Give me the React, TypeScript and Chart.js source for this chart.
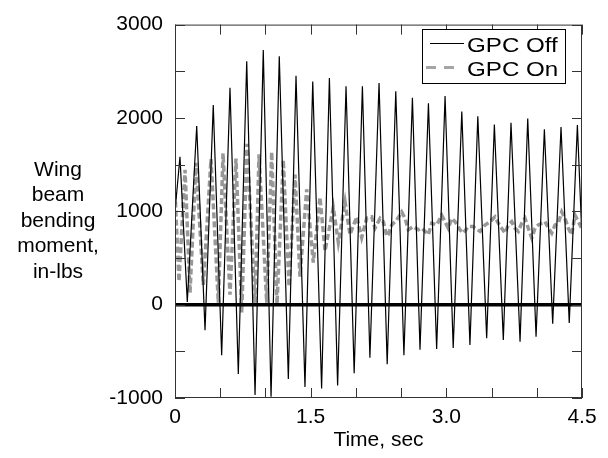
import React, { useEffect, useRef } from "react";
import { Chart, registerables } from "chart.js";

Chart.register(...registerables);

// ---- Data ----
const offTimes = [0, 0.055, 0.136, 0.240, 0.332, 0.423, 0.516, 0.608, 0.700, 0.793, 0.885, 0.976, 1.062, 1.153, 1.253, 1.338, 1.437, 1.523, 1.621, 1.707, 1.798, 1.891, 1.981, 2.072, 2.155, 2.256, 2.346, 2.441, 2.531, 2.625, 2.709, 2.802, 2.893, 2.986, 3.076, 3.171, 3.261, 3.348, 3.446, 3.531, 3.630, 3.715, 3.815, 3.900, 3.992, 4.084, 4.176, 4.268, 4.359, 4.449, 4.5];
const offValues = [1000, 1583, 28, 1913, -274, 2139, -542, 2323, -743, 2607, -969, 2729, -986, 2660, -795, 2451, -882, 2389, -899, 2427, -865, 2340, -736, 2340, -569, 2375, -639, 2285, -542, 2215, -483, 2156, -476, 2236, -465, 2070, -431, 2018, -361, 1930, -378, 1948, -396, 1993, -344, 1878, -205, 1903, -195, 1924, 700];

const onTimes = [0, 0.044, 0.111, 0.166, 0.232, 0.313, 0.398, 0.479, 0.531, 0.608, 0.674, 0.738, 0.796, 0.885, 0.929, 1.014, 1.069, 1.128, 1.197, 1.261, 1.327, 1.382, 1.456, 1.529, 1.603, 1.659, 1.750, 1.806, 1.880, 1.935, 2.009, 2.064, 2.120,
  2.175, 2.211, 2.267, 2.303, 2.341, 2.358, 2.396, 2.451, 2.507, 2.543, 2.580, 2.635, 2.690, 2.728, 2.764, 2.801, 2.838, 2.894, 2.949, 2.985, 3.022, 3.059, 3.096, 3.151, 3.188, 3.243, 3.298, 3.317, 3.373, 3.428, 3.483, 3.538, 3.575, 3.612, 3.649, 3.685, 3.723, 3.759, 3.796, 3.833, 3.870, 3.906, 3.944, 3.981, 4.017, 4.055, 4.091, 4.128, 4.165, 4.202, 4.238, 4.276, 4.312, 4.349, 4.386, 4.423, 4.459, 4.497];
const onValues = [1200, 250, 1444, 125, 1520, 211, 1560, 21, 1620, 107, 1566, -83, 1722, 21, 1610, 21, 1635, 3, 1549, 195, 1392, 300, 1236, 450, 1149, 576, 1040, 667, 1100, 750, 941, 718, 927,
  941, 819, 924, 889, 733, 750, 854, 906, 993, 924, 802, 837, 802, 819, 785, 750, 872, 854, 958, 889, 819, 924, 889, 802, 767, 837, 837, 819, 785, 854, 889, 941, 872, 819, 767, 854, 889, 819, 785, 872, 924, 819, 715, 819, 854, 872, 889, 819, 767, 854, 872, 993, 924, 819, 750, 958, 889, 819];

const seriesLabels = ["GPC Off", "GPC On"];
const xTickValues = [0, 1.5, 3.0, 4.5];
const xTickLabels = ["0", "1.5", "3.0", "4.5"];
const yTickValues = [-1000, 0, 1000, 2000, 3000];
const yTickLabels = ["-1000", "0", "1000", "2000", "3000"];
const yTitleLines = ["Wing", "beam", "bending", "moment,", "in-lbs"];
const xTitle = "Time, sec";

const FONT = "'Liberation Sans', Arial, Helvetica, sans-serif";
const FS = 21;
const GRAY = "rgb(152,152,152)";

const decorPlugin = {
  id: "decor",
  afterDatasetsDraw(chart: any) {
    const { ctx, chartArea: a, scales } = chart;
    const x = scales.x;
    const y = scales.y;
    ctx.save();
    // zero line
    const y0 = y.getPixelForValue(0);
    ctx.strokeStyle = "#000";
    ctx.lineWidth = 3.5;
    ctx.beginPath();
    ctx.moveTo(a.left, y0);
    ctx.lineTo(a.right, y0);
    ctx.stroke();
    // frame
    ctx.lineWidth = 1;
    ctx.strokeStyle = "#333";
    ctx.strokeRect(a.left + 0.5, a.top + 0.5, a.right - a.left - 1, a.bottom - a.top - 1);
    // inward ticks
    const TL = 10;
    ctx.beginPath();
    x.ticks.forEach((t: any) => {
      const px = Math.round(x.getPixelForValue(t.value)) + 0.5;
      ctx.moveTo(px, a.bottom);
      ctx.lineTo(px, a.bottom - TL);
      ctx.moveTo(px, a.top);
      ctx.lineTo(px, a.top + TL);
    });
    y.ticks.forEach((t: any) => {
      const py = Math.round(y.getPixelForValue(t.value)) + 0.5;
      ctx.moveTo(a.left, py);
      ctx.lineTo(a.left + TL, py);
      ctx.moveTo(a.right, py);
      ctx.lineTo(a.right - TL, py);
    });
    ctx.stroke();

    // legend
    const bx = 422, by = 29, bw = 143, bh = 54;
    ctx.fillStyle = "#fff";
    ctx.fillRect(bx, by, bw, bh);
    ctx.strokeStyle = "#000";
    ctx.lineWidth = 1;
    ctx.strokeRect(bx + 0.5, by + 0.5, bw, bh);
    const ds = chart.data.datasets;
    const rows = [43, 67];
    ds.forEach((d: any, i: number) => {
      ctx.save();
      ctx.strokeStyle = i === 0 ? d.borderColor : "rgb(165,165,165)";
      ctx.lineWidth = i === 0 ? 1 : 3;
      ctx.setLineDash(i === 0 ? [] : [10, 8]);
      ctx.beginPath();
      ctx.moveTo(i === 0 ? 430 : 426, rows[i] + 0.5);
      ctx.lineTo(i === 0 ? 464 : 454, rows[i] + 0.5);
      ctx.stroke();
      ctx.restore();
      ctx.save();
      ctx.fillStyle = "#000";
      ctx.font = `${FS}px ${FONT}`;
      ctx.textAlign = "left";
      ctx.textBaseline = "middle";
      ctx.translate(467, rows[i] + 3);
      ctx.scale(1.15, 1);
      ctx.fillText(d.label, 0, 0);
      ctx.restore();
    });

    // y title
    ctx.fillStyle = "#000";
    ctx.font = `${FS}px ${FONT}`;
    ctx.textAlign = "center";
    ctx.textBaseline = "middle";
    yTitleLines.forEach((s, i) => {
      ctx.fillText(s, 58, 170 + i * 25.5);
    });
    ctx.restore();
  },
};

export default function App() {
  const ref = useRef<HTMLCanvasElement | null>(null);
  useEffect(() => {
    if (!ref.current) return;
    Chart.defaults.font.family = FONT;
    Chart.defaults.color = "#000";
    const chart = new Chart(ref.current, {
      type: "line",
      data: {
        datasets: [
          {
            label: seriesLabels[0],
            data: offTimes.map((t, i) => ({ x: t, y: offValues[i] })),
            borderColor: "#000",
            borderWidth: 1.2,
            pointRadius: 0,
            tension: 0,
            order: 1,
          },
          {
            label: seriesLabels[1],
            data: onTimes.map((t, i) => ({ x: t, y: onValues[i] })),
            borderColor: GRAY,
            borderWidth: 3.5,
            borderDash: [6, 3],
            pointRadius: 0,
            tension: 0,
            order: 2,
          },
        ],
      },
      options: {
        responsive: false,
        animation: false,
        layout: { padding: { left: 0, right: 26, top: 14, bottom: 0 } },
        plugins: { legend: { display: false }, tooltip: { enabled: false } },
        scales: {
          x: {
            type: "linear",
            min: 0,
            max: 4.5,
            grid: { display: false, drawTicks: false },
            border: { display: false },
            ticks: {
              stepSize: 0.5,
              autoSkip: false,
              maxRotation: 0,
              padding: 7,
              font: { size: FS },
              callback: (v: any) => {
                const k = xTickValues.findIndex((q) => Math.abs(q - Number(v)) < 1e-6);
                return k >= 0 ? xTickLabels[k] : "";
              },
            },
            title: { display: true, text: xTitle, font: { size: FS }, padding: { top: 0, bottom: 5 } },
            afterFit: (s: any) => {
              s.height = 60;
            },
          },
          y: {
            type: "linear",
            min: -1000,
            max: 3000,
            grid: { display: false, drawTicks: false },
            border: { display: false },
            ticks: {
              stepSize: 500,
              autoSkip: false,
              padding: 12,
              font: { size: FS },
              callback: (v: any) => {
                const k = yTickValues.findIndex((q) => Math.abs(q - Number(v)) < 1e-6);
                return k >= 0 ? yTickLabels[k] : "";
              },
            },
            afterFit: (s: any) => {
              s.width = 175;
            },
          },
        },
      },
      plugins: [decorPlugin],
    });
    return () => chart.destroy();
  }, []);
  return (
    <div style={{ position: "absolute", left: 0, top: 0, width: 608, height: 458, background: "#fff" }}>
      <canvas ref={ref} width={608} height={458} style={{ display: "block" }} />
    </div>
  );
}
